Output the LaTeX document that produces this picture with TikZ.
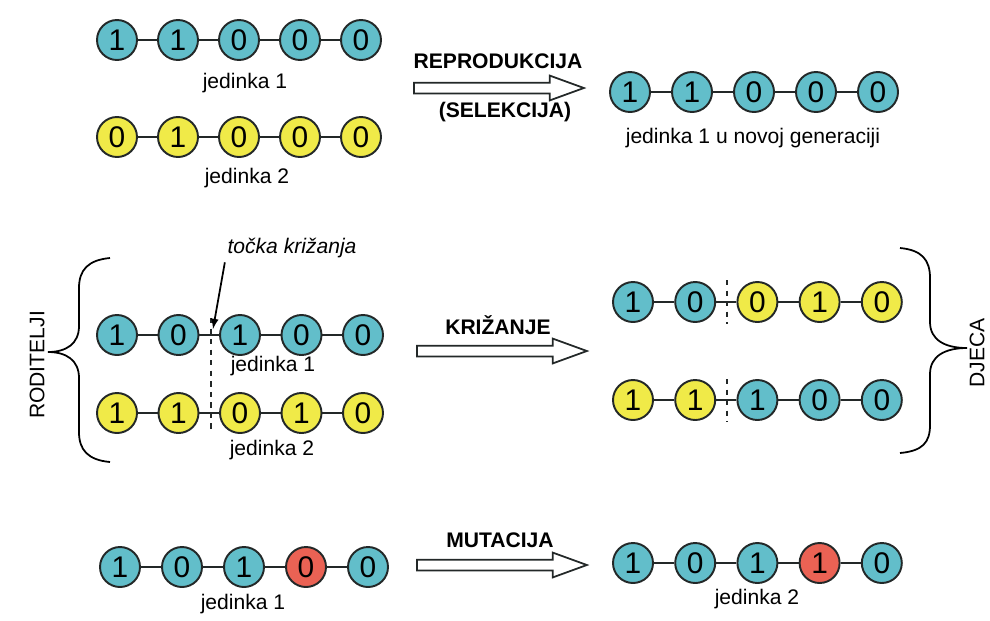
\documentclass[tikz,border=0pt]{standalone}
\usepackage{fontspec}
\setmainfont{Liberation Sans}
\usetikzlibrary{arrows}
\usetikzlibrary{shapes.arrows}
\definecolor{genblue}{RGB}{98,190,202}
\definecolor{genyellow}{RGB}{240,234,72}
\definecolor{genred}{RGB}{234,98,84}
\definecolor{genline}{RGB}{35,40,40}

% one chromosome: name, first x, y, step, list of digit/colour
\newcommand{\beadrow}[5]{%
  \foreach \d/\c [count=\i] in {#5}
    \node[bead, fill=\c] (#1\i) at ({#2+(\i-1)*#4},#3) {\d};
  \foreach \i [remember=\i as \j (initially 1)] in {2,...,5}
    \draw[link] (#1\j) -- (#1\i);
}

\begin{document}
\begin{tikzpicture}[x=0.02cm, y=-0.02cm,
  bead/.style={circle, draw=genline, line width=1.1pt, minimum size=0.8cm, inner sep=0pt,
    font=\fontsize{17}{17}\selectfont},
  link/.style={line width=0.9pt, color=genline},
  txt/.style={font=\fontsize{12}{14}\selectfont},
  note/.style={font=\fontsize{12}{14}\selectfont\itshape},
  oper/.style={font=\fontsize{12}{14}\selectfont\bfseries},
  cutline/.style={dashed, line width=0.9pt, color=genline},
  bigarrow/.style={single arrow, draw=genline, fill=white, line width=1pt, inner sep=0pt,
    inner ysep=0.09cm, minimum height=3.4cm, single arrow head extend=0.14cm,
    single arrow tip angle=40, anchor=west}]
  \useasboundingbox (0,0) rectangle (990,620);

%reproduction:
  \beadrow{p}{117}{40}{61}{1/genblue,1/genblue,0/genblue,0/genblue,0/genblue}
  \node[txt] (pname) at (245,83) {jedinka 1};
  \beadrow{q}{117}{137}{61}{0/genyellow,1/genyellow,0/genyellow,0/genyellow,0/genyellow}
  \node[txt] (qname) at (247,178) {jedinka 2};

  \node[oper] (reprod) at (498,61) {REPRODUKCIJA};
  \node[bigarrow] (arrowsel) at (413,88) {};
  \node[oper] (selek) at (505,112) {(SELEKCIJA)};

  \beadrow{r}{630}{92}{62}{1/genblue,1/genblue,0/genblue,0/genblue,0/genblue}
  \node[txt] (rname) at (753,138) {jedinka 1 u novoj generaciji};

%crossover:
  \beadrow{s}{117}{335}{61.5}{1/genblue,0/genblue,1/genblue,0/genblue,0/genblue}
  \node[txt] (sname) at (273,366) {jedinka 1};
  \beadrow{t}{117}{413}{61.5}{1/genyellow,1/genyellow,0/genyellow,1/genyellow,0/genyellow}
  \node[txt] (tname) at (272,450) {jedinka 2};

  \coordinate (cuttop) at (211,318);
  \coordinate (cutbot) at (211,432);
  \draw[cutline] (cuttop) -- (cutbot);
  \node[note] (cross) at (292,248) {točka križanja};
  \coordinate (crosspt) at (213,329);
  \draw[line width=1pt, -latex] ([xshift=2pt, yshift=1pt]cross.south west) -- (crosspt);

  \draw[line width=1pt] (110,258) .. controls (88,260) and (79,270) .. (79,288) -- (79,326)
    .. controls (79,344) and (66,352) .. (48,352) .. controls (66,352) and (79,360) .. (79,378)
    -- (79,432) .. controls (79,450) and (88,460) .. (110,462);
  \node[txt, rotate=90] (roditelji) at (37,365) {RODITELJI};

  \node[oper] (krizanje) at (498,325) {KRIŽANJE};
  \node[bigarrow] (arrowcross) at (416,351) {};

  \beadrow{u}{633}{302}{62.2}{1/genblue,0/genblue,0/genyellow,1/genyellow,0/genyellow}
  \beadrow{v}{633}{400}{62.2}{1/genyellow,1/genyellow,1/genblue,0/genblue,0/genblue}
  \coordinate (utop) at (727,280);
  \coordinate (ubot) at (727,324);
  \draw[cutline] (utop) -- (ubot);
  \coordinate (vtop) at (727,379);
  \coordinate (vbot) at (727,422);
  \draw[cutline] (vtop) -- (vbot);

  \draw[line width=1pt] (900,248) .. controls (922,250) and (930,260) .. (930,278) -- (930,322)
    .. controls (930,340) and (945,348) .. (967,348) .. controls (945,348) and (930,356) .. (930,374)
    -- (930,425) .. controls (930,443) and (922,451) .. (900,453);
  \node[txt, rotate=90] (djeca) at (977,353) {DJECA};

%mutation:
  \beadrow{w}{120}{567}{62}{1/genblue,0/genblue,1/genblue,0/genred,0/genblue}
  \node[txt] (wname) at (243,604) {jedinka 1};

  \node[oper] (mutac) at (500,540) {MUTACIJA};
  \node[bigarrow] (arrowmut) at (416,565) {};

  \beadrow{z}{633}{563}{62.2}{1/genblue,0/genblue,1/genblue,1/genred,0/genblue}
  \node[txt] (zname) at (757,599) {jedinka 2};
\end{tikzpicture}
\end{document}
